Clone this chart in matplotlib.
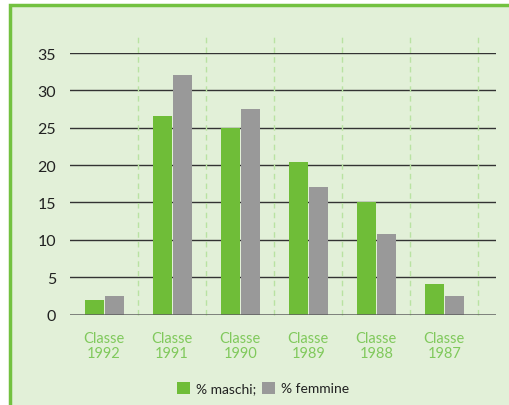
import numpy as np
import matplotlib.pyplot as plt
from matplotlib.patches import Rectangle

# data
classi = ["Classe\n1992", "Classe\n1991", "Classe\n1990", "Classe\n1989", "Classe\n1988", "Classe\n1987"]
maschi = [2.0, 26.6, 25.0, 20.4, 15.1, 4.1]
femmine = [2.5, 32.0, 27.5, 17.0, 10.8, 2.5]
yticks = [0, 5, 10, 15, 20, 25, 30, 35]

plt.rcParams["font.family"] = ["Lato", "DejaVu Sans"]

BG = "#e2f0d8"
GREEN = "#6fbd38"
GRAY = "#999999"
LABEL_GREEN = "#80c95c"

W, H = 509, 406
fig = plt.figure(figsize=(W / 100, H / 100), dpi=100)
fig.patch.set_facecolor("white")

# green frame, open at right and bottom
fig.patches.append(Rectangle((10 / W, -0.05), 1.1, (400 + 20) / H, transform=fig.transFigure,
                             facecolor=BG, edgecolor="#73c140", linewidth=2.5, zorder=-10))

ax = fig.add_axes([70 / W, (H - 315.5) / H, (496 - 70) / W, (315.5 - 54) / H])
ax.set_zorder(1)
ax.set_facecolor("none")

x = np.arange(len(classi))
bw = 0.28
ax.bar(x - 0.145, maschi, width=bw, color=GREEN, zorder=3, label="% maschi;")
ax.bar(x + 0.15, femmine, width=bw, color=GRAY, zorder=3, label="% femmine")

ax.set_xlim(-0.5, 5.76)
ax.set_ylim(0, 35)

for yv in yticks[1:]:
    ax.axhline(yv, color="#333333", lw=1.0, zorder=1)
ax.axhline(0, color="#5f5f5f", lw=1.8, zorder=4)

for xb in np.arange(0.5, 6, 1.0):
    ax.plot([xb, xb], [0, 37.3], color="#b9e2a2", lw=1.0, ls=(0, (4, 3)),
            zorder=1, clip_on=False)

for s in ax.spines.values():
    s.set_visible(False)

ax.set_yticks(yticks)
ax.set_yticklabels([str(v) for v in yticks], fontsize=11.5, color="#222222")
ax.tick_params(axis="y", length=0, pad=10)
ax.set_xticks(x)
ax.set_xticklabels(classi, fontsize=10.5, color=LABEL_GREEN, linespacing=1.12)
ax.tick_params(axis="x", length=0, pad=12)

fig.legend(loc="center", bbox_to_anchor=(263 / W, (H - 389) / H), ncol=2, frameon=False,
           fontsize=10, handlelength=0.95, handleheight=0.95, handletextpad=0.4,
           columnspacing=0.4, labelcolor="#222222")

fig.savefig("out.png", dpi=100, facecolor=fig.get_facecolor())
